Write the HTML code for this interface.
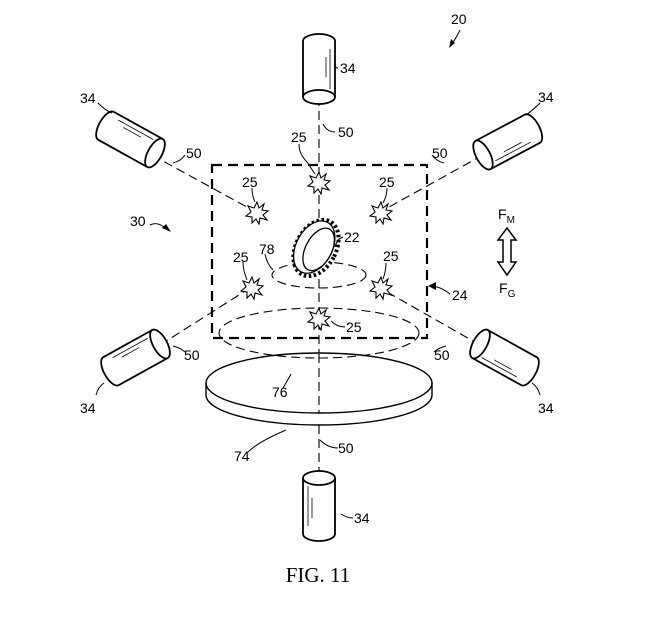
<!DOCTYPE html>
<html><head><style>
html,body{margin:0;padding:0;background:#fff;}
svg{display:block;}
text{font-family:"Liberation Sans",sans-serif;font-size:14px;fill:#000;}
</style></head><body>
<svg width="662" height="640" viewBox="0 0 662 640" xmlns="http://www.w3.org/2000/svg">
<defs>
<g id="cyl">
  <path d="M0,-16 L-56,-16 A7,16 0 0 0 -56,16 L0,16" fill="#fff" stroke="#000" stroke-width="1.8"/>
  <ellipse cx="0" cy="0" rx="7" ry="16" fill="#fff" stroke="#000" stroke-width="1.8"/>
  <line x1="-48" y1="-11" x2="-8" y2="-11" stroke="#000" stroke-width="0.8"/>
  <line x1="-40" y1="-7" x2="-20" y2="-7" stroke="#000" stroke-width="0.8"/>
</g>
<g id="star">
  <polygon points="0,-11 2,-5 7,-9 5,-3 11,-2 6,2 10,7 3,5 2,11 -1,6 -5,10 -5,4 -11,3 -6,-1 -9,-7 -3,-5" fill="#fff" stroke="#000" stroke-width="1.1"/>
</g>
</defs>
<g stroke="#000" stroke-width="1.1" fill="none" stroke-dasharray="9,5">
  <line x1="319" y1="97" x2="319" y2="353"/>
  <line x1="152" y1="155" x2="256" y2="212"/>
  <line x1="483" y1="155" x2="380" y2="212"/>
  <line x1="160" y1="345" x2="250" y2="288"/>
  <line x1="480" y1="345" x2="380" y2="288"/>
</g>
<rect x="212" y="165" width="215" height="173" fill="none" stroke="#000" stroke-width="2.2" stroke-dasharray="10,6"/>
<!-- disk -->
<path d="M206,383 L206,395 A113,30 0 0 0 432,395 L432,383" fill="#fff" stroke="#000" stroke-width="1.4"/>
<ellipse cx="319" cy="383" rx="113" ry="30" fill="#fff" stroke="#000" stroke-width="1.4"/>
<line x1="319" y1="354" x2="319" y2="413" stroke="#000" stroke-width="1.1" stroke-dasharray="9,5"/>
<line x1="319" y1="425" x2="319" y2="476" stroke="#000" stroke-width="1.1" stroke-dasharray="9,5"/>
<ellipse cx="319" cy="333" rx="100" ry="25" fill="none" stroke="#000" stroke-width="1.1" stroke-dasharray="9,5"/>
<ellipse cx="319" cy="275" rx="47" ry="13" fill="none" stroke="#000" stroke-width="1.1" stroke-dasharray="9,5"/>
<!-- gear -->
<g transform="translate(316,248) rotate(28)">
  <ellipse cx="0" cy="0" rx="20" ry="30" fill="#fff" stroke="#000" stroke-width="4" stroke-dasharray="2.5,2.5"/>
  <ellipse cx="-2" cy="0" rx="18" ry="28" fill="#fff" stroke="#000" stroke-width="1.3"/>
  <ellipse cx="3" cy="0" rx="13" ry="23" fill="#fff" stroke="#000" stroke-width="1.3"/>
</g>
<use href="#star" x="319" y="183"/>
<use href="#star" x="257" y="213"/>
<use href="#star" x="381" y="213"/>
<use href="#star" x="252" y="288"/>
<use href="#star" x="381" y="288"/>
<use href="#star" x="319" y="319"/>
<!-- cameras -->
<use href="#cyl" transform="translate(319,97) rotate(90)"/>
<use href="#cyl" transform="translate(319,478) rotate(-90)"/>
<use href="#cyl" transform="translate(155,153) rotate(29)"/>
<use href="#cyl" transform="translate(483,155) rotate(152)"/>
<use href="#cyl" transform="translate(160,344) rotate(-29)"/>
<use href="#cyl" transform="translate(480,344) rotate(-151)"/>
<!-- leaders -->
<g stroke="#000" stroke-width="1" fill="none">
  <path d="M338,68 q-5,0 -3,-6"/>
  <path d="M335,132 q-8,0 -12,-8"/>
  <path d="M299,144 q0,10 8,18 q4,6 8,12"/>
  <path d="M252,188 q0,8 3,14"/>
  <path d="M387,188 q0,8 -4,15"/>
  <path d="M243,262 q0,8 4,18"/>
  <path d="M386,263 q0,8 -3,16"/>
  <path d="M345,327 q-8,0 -14,-6"/>
  <path d="M343,237 q-6,2 -8,10"/>
  <path d="M265,254 q2,10 8,16"/>
  <path d="M283,388 q6,-10 8,-14"/>
  <path d="M248,452 q10,-10 38,-22"/>
  <path d="M338,448 q-10,0 -18,-8"/>
  <path d="M185,155 q-4,6 -12,8"/>
  <path d="M432,155 q4,6 12,8"/>
  <path d="M185,352 q-4,-4 -12,-6"/>
  <path d="M434,352 q4,-4 12,-6"/>
  <path d="M98,103 q8,8 14,10"/>
  <path d="M540,103 q-6,6 -14,12"/>
  <path d="M96,395 q2,-8 8,-12"/>
  <path d="M540,395 q-2,-8 -8,-12"/>
  <path d="M353,518 q-6,0 -12,-4"/>
  <path d="M460,30 q-4,8 -8,14"/>
  <path d="M150,225 q8,-4 16,4"/>
  <path d="M450,294 q-10,-8 -20,-8"/>
</g>
<g fill="#000">
  <polygon points="449,48 451,39 455,43"/>
  <polygon points="171,232 162,228 166,224"/>
  <polygon points="428,286 436,282 436,290"/>
</g>
<!-- force arrow -->
<polygon points="507,228 516,240 511,240 511,262 516,262 507,275 498,262 503,262 503,240 498,240" fill="#fff" stroke="#000" stroke-width="1.5"/>
<text x="498" y="219">F<tspan font-size="10" dy="4">M</tspan></text>
<text x="499" y="293">F<tspan font-size="10" dy="4">G</tspan></text>
<!-- labels -->
<text x="451" y="24">20</text>
<text x="340" y="73">34</text>
<text x="538" y="102">34</text>
<text x="80" y="103">34</text>
<text x="80" y="413">34</text>
<text x="538" y="413">34</text>
<text x="354" y="523">34</text>
<text x="338" y="137">50</text>
<text x="432" y="158">50</text>
<text x="186" y="158">50</text>
<text x="184" y="360">50</text>
<text x="434" y="360">50</text>
<text x="338" y="453">50</text>
<text x="291" y="142">25</text>
<text x="242" y="187">25</text>
<text x="379" y="187">25</text>
<text x="233" y="262">25</text>
<text x="383" y="261">25</text>
<text x="346" y="332">25</text>
<text x="344" y="242">22</text>
<text x="259" y="254">78</text>
<text x="272" y="397">76</text>
<text x="234" y="461">74</text>
<text x="130" y="226">30</text>
<text x="452" y="300">24</text>
<text x="318" y="582" text-anchor="middle" style="font-family:'Liberation Serif',serif;font-size:21px">FIG. 11</text>
</svg>
</body></html>
